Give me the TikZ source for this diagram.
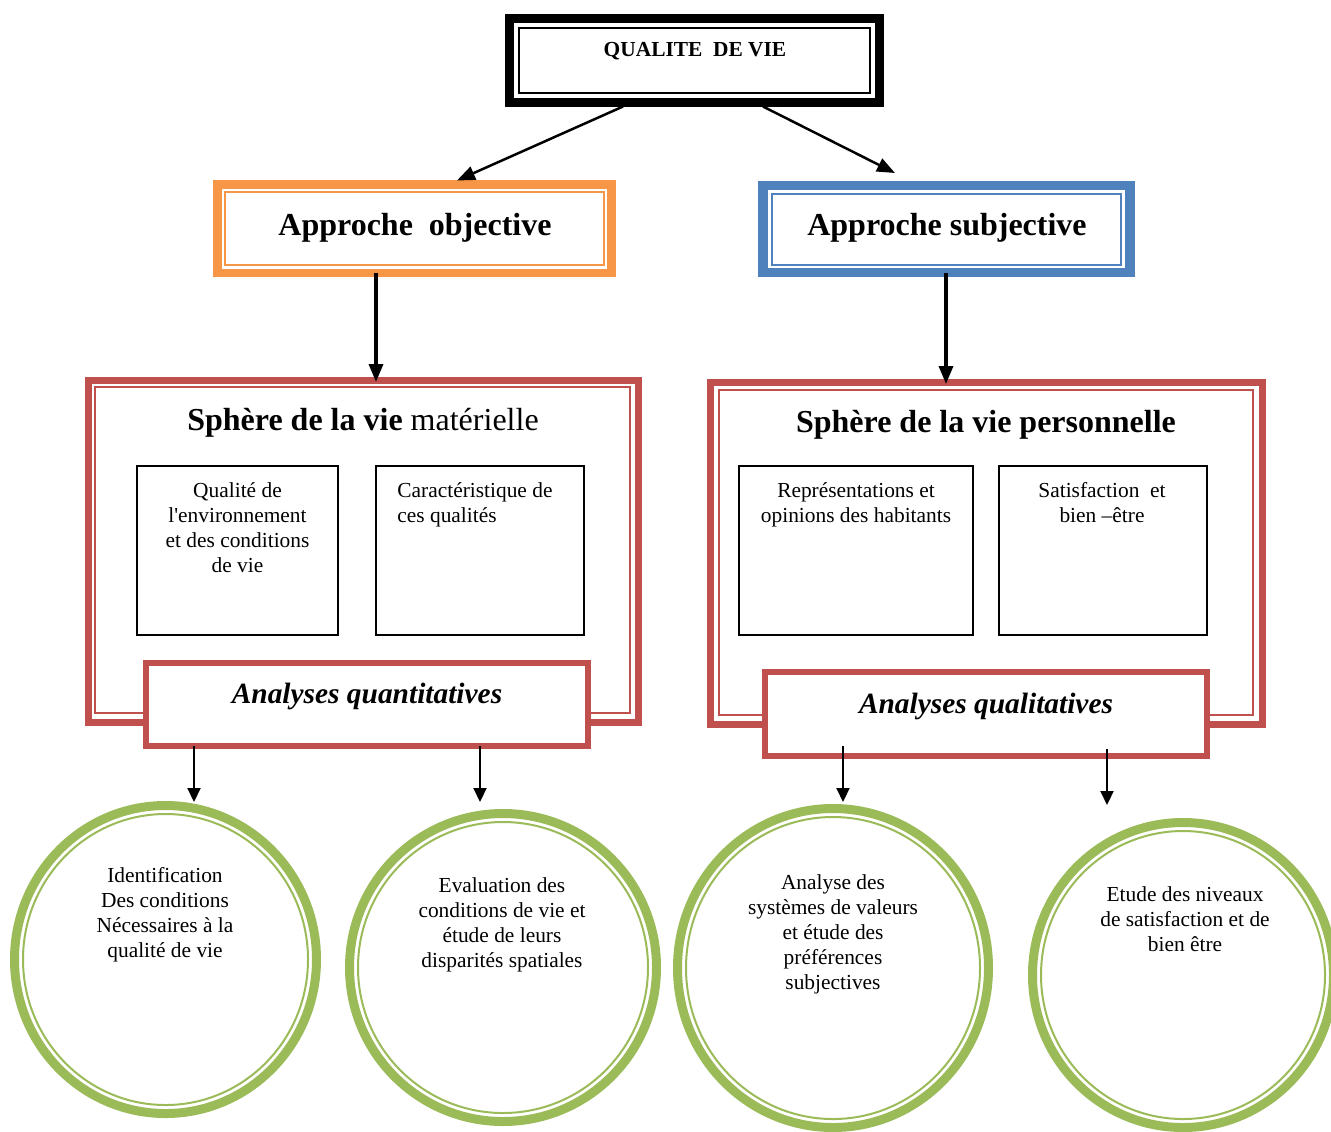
\documentclass[tikz,border=0pt]{standalone}
\usepackage{fontspec}
\setmainfont{Liberation Serif}[Ligatures=TeXOff]
\usetikzlibrary{arrows.meta,shapes.geometric}

\definecolor{frameorange}{HTML}{F79646}
\definecolor{frameblue}{HTML}{4F81BD}
\definecolor{framered}{HTML}{C0504D}
\definecolor{ringgreen}{HTML}{9BBB59}

\begin{document}
\begin{tikzpicture}[x=0.5pt,y=-0.5pt,
  body/.style={font=\fontsize{10.7}{12.5}\selectfont, align=center, inner sep=0pt},
  head/.style={font=\fontsize{16}{19}\selectfont\bfseries, inner sep=0pt},
  analysis/.style={font=\fontsize{14.7}{17}\selectfont\bfseries\itshape, inner sep=0pt},
  panel/.style={draw, rectangle, inner sep=0pt, outer sep=0pt},
  cellbox/.style={panel, line width=1pt},
  ring/.style={draw=ringgreen, ellipse, line width=4.5pt, inner sep=0pt, outer sep=0pt},
  thinring/.style={draw=ringgreen, line width=1pt},
  bigarrow/.style={-{Triangle[length=9pt,width=7pt]}, line width=1.25pt},
  stemarrow/.style={-{Triangle[length=9pt,width=7pt]}, line width=1.75pt},
  smallarrow/.style={-{Triangle[length=7pt,width=6.5pt]}, line width=1pt},
]
\useasboundingbox (0,0) rectangle (1331,1131);

% ---------- title ----------
\node[panel, line width=4.5pt, minimum width=185pt, minimum height=42pt] (qv) at (694,60) {};
\draw[line width=1pt] ([shift={(9.5,9.5)}]qv.north west) rectangle ([shift={(-9.5,-9.5)}]qv.south east);
\node[font=\fontsize{10.7}{12.5}\selectfont\bfseries, anchor=base, inner sep=0pt] (qvt) at (695,56) {QUALITE\ \ DE VIE};

% ---------- the two approaches ----------
\node[panel, draw=frameorange, line width=4.25pt, minimum width=197pt, minimum height=44.25pt] (obj) at (414.5,228.75) {};
\draw[frameorange, line width=1pt] ([shift={(7,7.5)}]obj.north west) rectangle ([shift={(-7.5,-8.5)}]obj.south east);
\node[head, anchor=base] (objt) at (415,235) {Approche\ \ objective};

\node[panel, draw=frameblue, line width=4.75pt, minimum width=183.5pt, minimum height=43.5pt] (subj) at (946.5,229) {};
\draw[frameblue, line width=1pt] ([shift={(9,8.5)}]subj.north west) rectangle ([shift={(-9,-8)}]subj.south east);
\node[head, anchor=base] (subjt) at (947,235) {Approche subjective};

% ---------- spheres ----------
\node[panel, draw=framered, line width=3.5pt, minimum width=275pt, minimum height=171pt] (mat) at (363,551) {};
\draw[framered, line width=1pt] ([shift={(7,7)}]mat.north west) rectangle ([shift={(-8,-9.5)}]mat.south east);
\node[head, anchor=base] (matt) at (363,430) {Sphère de la vie \mdseries matérielle};

\node[panel, draw=framered, line width=3.5pt, minimum width=276pt, minimum height=171pt] (pers) at (986,553) {};
\draw[framered, line width=1pt] ([shift={(9,8)}]pers.north west) rectangle ([shift={(-9,-9.5)}]pers.south east);
\node[head, anchor=base] (perst) at (986,432) {Sphère de la vie personnelle};

% ---------- cells inside the spheres ----------
\node[cellbox, minimum width=100.5pt, minimum height=84.5pt] (cell1) at (237.5,550.5) {};
\node[body, anchor=north] (cell1t) at (237.5,482) {Qualité de\\l'environnement\\et des conditions\\de vie};

\node[cellbox, minimum width=104pt, minimum height=84.5pt] (cell2) at (480,550.5) {};
\node[body, align=left, anchor=north west] (cell2t) at (397,482) {Caractéristique de\\ces qualités};

\node[cellbox, minimum width=117pt, minimum height=84.5pt] (cell3) at (856,550.5) {};
\node[body, anchor=north] (cell3t) at (856,482) {Représentations et\\opinions des habitants};

\node[cellbox, minimum width=104pt, minimum height=84.5pt] (cell4) at (1103,550.5) {};
\node[body, anchor=north] (cell4t) at (1102,482) {Satisfaction\ \ et\\bien –être};

% ---------- analyses ----------
\node[panel, draw=framered, fill=white, line width=3pt, minimum width=221pt, minimum height=41.5pt] (quant) at (367,704.5) {};
\node[analysis, anchor=base] (quantt) at (367,703) {Analyses quantitatives};

\node[panel, draw=framered, fill=white, line width=3.25pt, minimum width=221pt, minimum height=42pt] (qual) at (986,714) {};
\node[analysis, anchor=base] (qualt) at (986,713) {Analyses qualitatives};

% ---------- result circles ----------
\node[ring, minimum width=151pt, minimum height=154pt] (c1) at (165.5,959.5) {};
\draw[thinring] (c1.center) ellipse [x radius=71.25pt, y radius=72.75pt];
\node[body, anchor=north] (c1t) at (165,867) {Identification\\Des conditions\\Nécessaires à la\\qualité de vie};

\node[ring, minimum width=153.5pt, minimum height=154pt] (c2) at (503,967.5) {};
\draw[thinring] (c2.center) ellipse [x radius=72.5pt, y radius=72.75pt];
\node[body, anchor=north] (c2t) at (502,877) {Evaluation des\\conditions de vie et\\étude de leurs\\disparités spatiales};

\node[ring, minimum width=155.5pt, minimum height=159.5pt] (c3) at (833,968) {};
\draw[thinring] (c3.center) ellipse [x radius=73.5pt, y radius=75.5pt];
\node[body, anchor=north] (c3t) at (833,874) {Analyse des\\systèmes de valeurs\\et étude des\\préférences\\subjectives};

\node[ring, minimum width=150.5pt, minimum height=152.5pt] (c4) at (1183,975) {};
\draw[thinring] (c4.center) ellipse [x radius=71pt, y radius=72pt];
\node[body, anchor=north] (c4t) at (1185,886) {Etude des niveaux\\de satisfaction et de\\bien être};

% ---------- connectors ----------
\draw[bigarrow] ([shift={(-71,4.5)}]qv.south) -- ([shift={(42.5,-4)}]obj.north);
\draw[bigarrow] ([shift={(69,4.5)}]qv.south) -- ([shift={(-51.5,-12.5)}]subj.north);

\coordinate (xl) at (376,0);
\coordinate (xr) at (946,0);
\draw[stemarrow] (obj.south -| xl) -- ([yshift=-1pt]mat.north -| xl);
\draw[stemarrow] (subj.south -| xr) -- ([yshift=-1pt]pers.north -| xr);

\coordinate (x1) at (194,0);
\coordinate (x2) at (480,0);
\coordinate (x3) at (843,0);
\coordinate (x4) at (1107,0);
\path ([yshift=1.75pt]c1.north) coordinate (c1top)
      ([yshift=5.75pt]c2.north) coordinate (c2top)
      ([yshift=3.25pt]c3.north) coordinate (c3top)
      ([yshift=8.75pt]c4.north) coordinate (c4top)
      ([yshift=5pt]qual.south) coordinate (qualin)
      ([yshift=3.5pt]qual.south) coordinate (qualin2);
\draw[smallarrow] (quant.south -| x1) -- (c1top -| x1);
\draw[smallarrow] (quant.south -| x2) -- (c2top -| x2);
\draw[smallarrow] (qualin -| x3) -- (c3top -| x3);
\draw[smallarrow] (qualin2 -| x4) -- (c4top -| x4);
\end{tikzpicture}
\end{document}
